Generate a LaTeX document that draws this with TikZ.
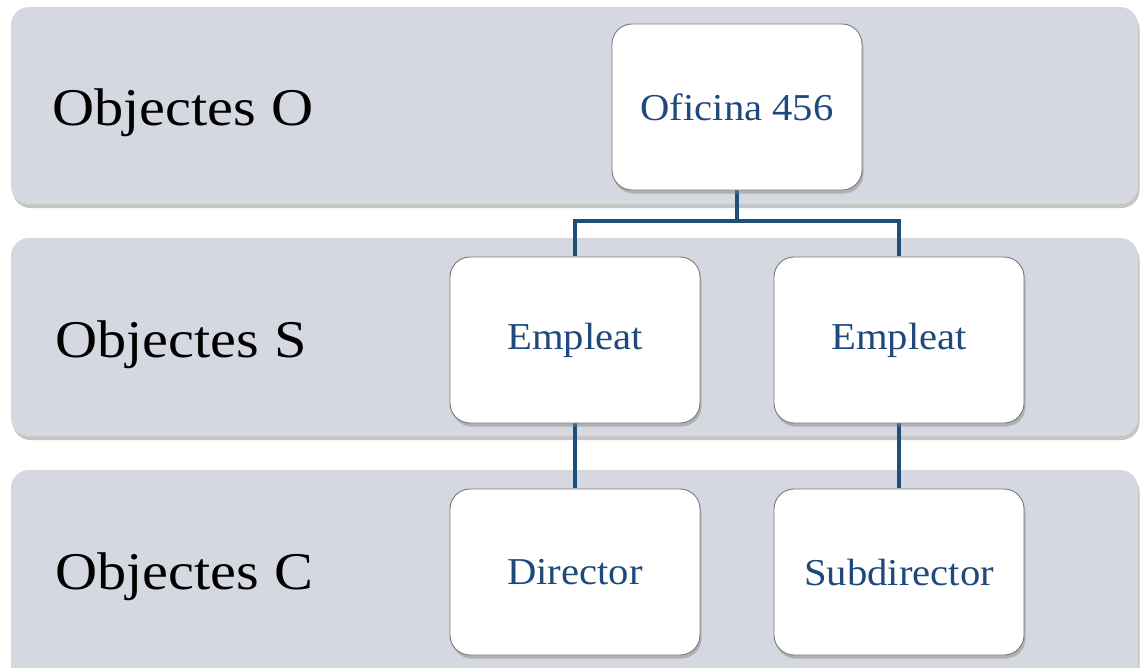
\documentclass[tikz,border=0pt]{standalone}
\usepackage{fontspec}
\setmainfont{Liberation Serif}
\newfontfamily\bandfont[FakeStretch=1.10]{Liberation Serif}
\newfontfamily\unitfont[FakeStretch=1.07]{Liberation Serif}
\usetikzlibrary{shadows,calc}
\definecolor{bandgray}{HTML}{D5D8E0}
\definecolor{linkblue}{HTML}{1F4E79}
\definecolor{textblue}{HTML}{1F497D}
\definecolor{boxedge}{HTML}{7A7A7A}
\tikzset{
  band/.style={fill=bandgray, draw=none, rounded corners=18pt,
    drop shadow={opacity=0.45, shadow xshift=1.5pt, shadow yshift=-4pt}},
  bandlabel/.style={anchor=west, font=\bandfont\fontsize{53}{58}\selectfont, text=black},
  unit/.style={fill=white, draw=boxedge, line width=0.9pt, rounded corners=20pt,
    minimum width=250pt, minimum height=166pt, inner sep=0pt,
    font=\unitfont\fontsize{38}{42}\selectfont, text=textblue,
    drop shadow={opacity=0.45, shadow xshift=1.5pt, shadow yshift=-3.5pt}},
  link/.style={draw=linkblue, line width=4.5pt}
}
\begin{document}
\begin{tikzpicture}[x=1pt, y=-1pt]
  \useasboundingbox (0,0) rectangle (1140,667);
  \clip (0,0) rectangle (1140,667);
  \fill[white] (0,0) rectangle (1140,667);
  % horizontal bands
  \path[band] (11,7) rectangle (1138,204);
  \path[band] (11,238) rectangle (1138,436);
  \path[band] (11,470) rectangle (1138,700);
  \node[bandlabel] (lo) at (49,113) {Objectes O};
  \node[bandlabel] (ls) at (52,345) {Objectes S};
  \node[bandlabel] (lc) at (52,577) {Objectes C};
  % connectors
  \coordinate (bus) at (737,221);
  \coordinate (ofiB) at (737,189);
  \coordinate (e1T) at (575,256);
  \coordinate (e2T) at (899,256);
  \coordinate (e1B) at (575,421);
  \coordinate (e2B) at (899,421);
  \coordinate (dT) at (575,488);
  \coordinate (sT) at (899,488);
  \draw[link] (ofiB) -- (bus);
  \draw[link] (bus) -| (e1T);
  \draw[link] (bus) -| (e2T);
  \draw[link] (e1B) -- (dT);
  \draw[link] (e2B) -- (sT);
  % boxes
  \node[unit] (ofi) at (737,107) {Oficina 456};
  \node[unit] (e1) at (575,340) {Empleat};
  \node[unit] (e2) at (899,340) {Empleat};
  \node[unit] (dir) at (575,572) {Director};
  \node[unit] (sub) at (899,572) {Subdirector};
\end{tikzpicture}
\end{document}
